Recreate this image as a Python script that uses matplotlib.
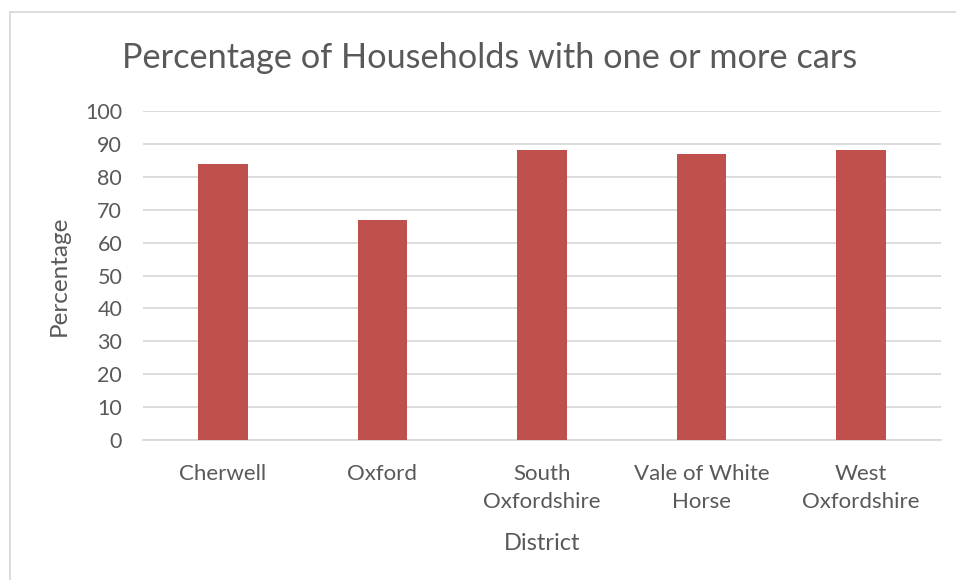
import matplotlib
matplotlib.use("Agg")
import matplotlib.pyplot as plt
from matplotlib.patches import Rectangle

categories = ["Cherwell", "Oxford", "South\nOxfordshire", "Vale of White\nHorse", "West\nOxfordshire"]
values = [84, 67, 88, 87, 88]
yticks = [0, 10, 20, 30, 40, 50, 60, 70, 80, 90, 100]

plt.rcParams['font.family'] = ['Lato', 'DejaVu Sans']
txt = '#595959'
W, H = 956, 580
fig = plt.figure(figsize=(W/100, H/100), dpi=100)
ax = fig.add_axes([143/W, 1-440/H, (941-143)/W, (440-111)/H])

x = list(range(len(categories)))
ax.bar(x, values, width=0.31, color='#C0504D', zorder=3)
ax.set_xlim(-0.5, len(categories)-0.5)
ax.set_ylim(0, 100)
ax.set_yticks(yticks)
ax.set_yticklabels([str(v) for v in yticks], fontsize=15.5, color=txt)
ax.set_xticks(x)
ax.set_xticklabels(categories, fontsize=16, color=txt, linespacing=1.55)
ax.grid(axis='y', color='#D9D9D9', linewidth=1.3, zorder=0)
for s in ['top', 'right', 'left']:
    ax.spines[s].set_visible(False)
ax.spines['bottom'].set_color('#D9D9D9')
ax.spines['bottom'].set_linewidth(1.3)
ax.tick_params(axis='y', length=0, pad=15)
ax.tick_params(axis='x', length=0, pad=17)

ax.set_ylabel("Percentage", fontsize=17.5, color=txt, labelpad=11)
ax.set_xlabel("District", fontsize=17, color=txt, labelpad=15)
fig.text(490/W, 1-58/H, "Percentage of Households with one or more cars",
         fontsize=24.7, color=txt, ha='center', va='center')

fig.patches.append(Rectangle((10/W, -0.1), 1.0, 1 - 12/H + 0.1, transform=fig.transFigure,
                             fill=False, edgecolor='#D9D9D9', linewidth=1.3))

fig.savefig("out.png", dpi=100, facecolor='white')
